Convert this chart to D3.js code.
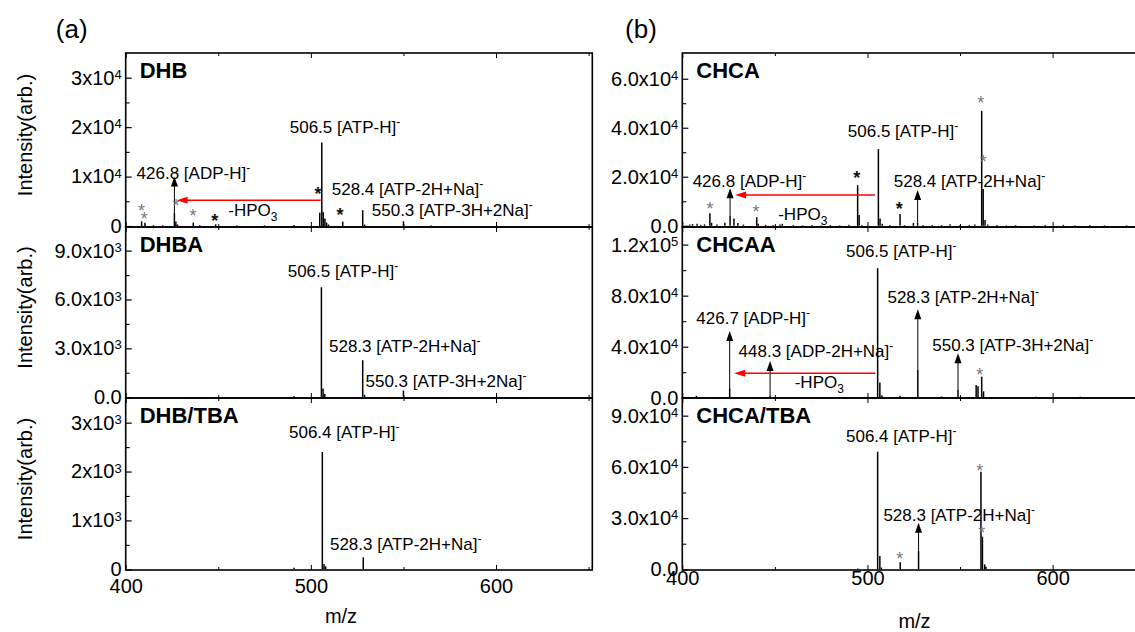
<!DOCTYPE html>
<html><head><meta charset="utf-8">
<script src="https://cdn.jsdelivr.net/npm/d3@7"></script>
<style>
html,body{margin:0;padding:0;background:#fff;}
svg{display:block;font-family:"Liberation Sans",Arial,Helvetica,sans-serif;}
</style></head><body>
<svg id="chart" width="1135" height="632"></svg>
<script>
// ---------- data ----------
const mzDomain = [400, 652];
const xTicksMajor = [400, 500, 600];
const xTicksMinor = [450, 550, 650];
const xTickLabels = ["400", "500", "600"];
const panelTitles = ["DHB", "DHBA", "DHB/TBA", "CHCA", "CHCAA", "CHCA/TBA"];
const groupLabels = ["(a)", "(b)"];
const yTitle = "Intensity(arb.)";
const xTitle = "m/z";

// DHB
const dhbPeaks = [[408.6,950],[410.4,650],[415.0,150],[420.0,120],[426.3,2600],[427.1,900],[428.0,300],[436.5,700],[440.0,150],[448.6,350],[460.0,120],[475.0,120],[490.9,200],[504.8,2700],[505.9,16900],[506.7,2800],[507.6,1500],[508.5,700],[509.5,300],[517.2,900],[528.0,3200],[529.0,300],[550.0,950],[565.0,100]];
const dhbYDomain = [-200, 35000];
const dhbYTicks = [0, 10000, 20000, 30000];
const dhbYMinor = [5000, 15000, 25000];
const dhbYLabels = [["0",""],["1x10","4"],["2x10","4"],["3x10","4"]];
const dhbLabels = [[488.6,18750,"506.5 [ATP-H]"],[405.9,9500,"426.8 [ADP-H]"],[511.3,6270,"528.4 [ATP-2H+Na]"],[532.9,2025,"550.3 [ATP-3H+2Na]"]];
const dhbArrows = [[426.3,2600,10000]];
const dhbRedArrows = [[505.3,427.5,5200]];
const dhbHpo = [[455.4,2025]];
const dhbStars = [[408.6,3900,"g"],[410.0,2170,"g"],[427.2,4860,"g"],[436.3,2900,"g"],[448.1,1820,"b"],[503.9,7230,"b"],[515.7,3040,"b"]];

// DHBA
const dhbaPeaks = [[490.9,60],[505.7,6750],[506.6,530],[507.5,200],[528.0,2270],[529.0,150],[550.0,410]];
const dhbaYDomain = [-50, 10450];
const dhbaYTicks = [0, 3000, 6000, 9000];
const dhbaYMinor = [1500, 4500, 7500];
const dhbaYLabels = [["0.0",""],["3.0x10","3"],["6.0x10","3"],["9.0x10","3"]];
const dhbaLabels = [[487.5,7360,"506.5 [ATP-H]"],[509.8,2790,"528.3 [ATP-2H+Na]"],[529.5,640,"550.3 [ATP-3H+2Na]"]];

// DHB/TBA
const dhbTbaPeaks = [[490.9,30],[506.2,2400],[507.1,110],[508.0,60],[528.3,245]];
const dhbTbaYDomain = [-15, 3505];
const dhbTbaYTicks = [0, 1000, 2000, 3000];
const dhbTbaYMinor = [500, 1500, 2500];
const dhbTbaYLabels = [["0",""],["1x10","3"],["2x10","3"],["3x10","3"]];
const dhbTbaLabels = [[488.2,2680,"506.4 [ATP-H]"],[510.3,394,"528.3 [ATP-2H+Na]"]];

// CHCA
const chcaPeaks = [[404,500],[405.5,700],[408,800],[410,400],[412,600],[414.9,5100],[415.8,1200],[418.7,500],[423,1200],[425.8,4000],[427.9,3000],[430,1100],[433,500],[440.2,3500],[441,800],[445,400],[449,300],[452.8,500],[454,800],[460,300],[465,200],[470,300],[475,200],[480,300],[485,200],[490,400],[494.7,16600],[495.5,4400],[497,300],[505.9,31300],[506.8,3000],[508,800],[512,300],[517.6,4800],[520,300],[524.8,1100],[527.1,1300],[530,300],[535,300],[540,300],[544.6,600],[550,300],[555,300],[558,500],[561.7,46900],[562.5,15000],[563.5,2400],[565,500],[570,300],[575,200],[580,300],[590,200],[596,300],[605.8,400],[612,200],[620,300],[628,200],[640,200]];
const chcaYDomain = [-500, 70500];
const chcaYTicks = [0, 20000, 40000, 60000];
const chcaYMinor = [10000, 30000, 50000];
const chcaYLabels = [["0.0",""],["2.0x10","4"],["4.0x10","4"],["6.0x10","4"]];
const chcaLabels = [[489.4,36350,"506.5 [ATP-H]"],[405.6,15700,"426.8 [ADP-H]"],[514.2,15700,"528.4 [ATP-2H+Na]"]];
const chcaArrows = [[425.8,4000,15290],[527.1,1300,14600]];
const chcaRedArrows = [[504.1,428.5,12560]];
const chcaHpo = [[451.8,2356]];
const chcaStars = [[414.9,8480,"g"],[439.8,7130,"g"],[494.2,21130,"b"],[517.2,8480,"b"],[561.2,51600,"g"],[562.6,27780,"g"]];

// CHCAA
const chcaaPeaks = [[407.6,1500],[425.6,7400],[447.4,1500],[505.5,101500],[506.7,12000],[507.8,2000],[517.6,1500],[527.2,21700],[540,1000],[548.9,6000],[558.7,10000],[559.7,9000],[561.7,16500],[562.7,5000],[591,800],[615,800]];
const chcaaYDomain = [-200, 133800];
const chcaaYTicks = [0, 40000, 80000, 120000];
const chcaaYMinor = [20000, 60000, 100000];
const chcaaYLabels = [["0.0",""],["4.0x10","4"],["8.0x10","4"],["1.2x10","5"]];
const chcaaLabels = [[488.4,110070,"506.5 [ATP-H]"],[510.8,74000,"528.3 [ATP-2H+Na]"],[407.6,57800,"426.7 [ADP-H]"],[430.4,32170,"448.3 [ADP-2H+Na]"],[535.0,36870,"550.3 [ATP-3H+2Na]"]];
const chcaaArrows = [[425.6,7400,52300],[447.4,1500,28800],[527.2,21700,69300],[548.9,6000,34830]];
const chcaaRedArrows = [[504.3,428.0,19160]];
const chcaaHpo = [[460.7,7400]];
const chcaaStars = [[560.7,21200,"g"]];

// CHCA/TBA
const chcaTbaPeaks = [[494.8,500],[505.5,68900],[506.7,7800],[507.5,1000],[517.7,4100],[527.6,10700],[561.3,57200],[562.1,19100],[563.3,2900],[564.0,1500]];
const chcaTbaYDomain = [-400, 100350];
const chcaTbaYTicks = [0, 30000, 60000, 90000];
const chcaTbaYMinor = [15000, 45000, 75000];
const chcaTbaYLabels = [["0.0",""],["3.0x10","4"],["6.0x10","4"],["9.0x10","4"]];
const chcaTbaLabels = [[488.4,74750,"506.4 [ATP-H]"],[508.6,28480,"528.3 [ATP-2H+Na]"]];
const chcaTbaArrows = [[527.6,10700,27300]];
const chcaTbaStars = [[517.4,8390,"g"],[560.7,60100,"g"],[561.7,23440,"g"]];

// ---------- layout ----------
const colX0 = [125.7, 682.3];
const plotW = 466.6;
const rowTop = [53, 227, 398];
const rowH = [174, 171, 172];
const FONT = '"Liberation Sans",Arial,Helvetica,sans-serif';

const panels = [
  {col:0,row:0,peaks:dhbPeaks,yDomain:dhbYDomain,yTicks:dhbYTicks,yMinor:dhbYMinor,yLabels:dhbYLabels,labels:dhbLabels,arrows:dhbArrows,red:dhbRedArrows,hpo:dhbHpo,stars:dhbStars},
  {col:0,row:1,peaks:dhbaPeaks,yDomain:dhbaYDomain,yTicks:dhbaYTicks,yMinor:dhbaYMinor,yLabels:dhbaYLabels,labels:dhbaLabels,arrows:[],red:[],hpo:[],stars:[]},
  {col:0,row:2,peaks:dhbTbaPeaks,yDomain:dhbTbaYDomain,yTicks:dhbTbaYTicks,yMinor:dhbTbaYMinor,yLabels:dhbTbaYLabels,labels:dhbTbaLabels,arrows:[],red:[],hpo:[],stars:[]},
  {col:1,row:0,peaks:chcaPeaks,yDomain:chcaYDomain,yTicks:chcaYTicks,yMinor:chcaYMinor,yLabels:chcaYLabels,labels:chcaLabels,arrows:chcaArrows,red:chcaRedArrows,hpo:chcaHpo,stars:chcaStars},
  {col:1,row:1,peaks:chcaaPeaks,yDomain:chcaaYDomain,yTicks:chcaaYTicks,yMinor:chcaaYMinor,yLabels:chcaaYLabels,labels:chcaaLabels,arrows:chcaaArrows,red:chcaaRedArrows,hpo:chcaaHpo,stars:chcaaStars},
  {col:1,row:2,peaks:chcaTbaPeaks,yDomain:chcaTbaYDomain,yTicks:chcaTbaYTicks,yMinor:chcaTbaYMinor,yLabels:chcaTbaYLabels,labels:chcaTbaLabels,arrows:chcaTbaArrows,red:[],hpo:[],stars:chcaTbaStars}
];
panels.forEach((p,i)=>{ p.title = panelTitles[i]; });

const svg = d3.select("#chart");

panels.forEach(p => {
  const x0 = colX0[p.col], top = rowTop[p.row], h = rowH[p.row];
  const x = d3.scaleLinear().domain(mzDomain).range([x0, x0 + plotW]);
  const y = d3.scaleLinear().domain(p.yDomain).range([top + h, top]);
  const g = svg.append("g");

  // peaks
  g.selectAll("line.peak").data(p.peaks).join("line").attr("class","peak")
    .attr("x1", d => x(d[0])).attr("x2", d => x(d[0]))
    .attr("y1", y(0)).attr("y2", d => y(d[1]))
    .attr("stroke", "#000").attr("stroke-width", 1.5);

  // black arrows
  g.selectAll("line.arr").data(p.arrows).join("line").attr("class","arr")
    .attr("x1", d => x(d[0])).attr("x2", d => x(d[0]))
    .attr("y1", d => y(d[1])).attr("y2", d => y(d[2]) + 8)
    .attr("stroke", "#000").attr("stroke-width", 1);
  g.selectAll("path.ah").data(p.arrows).join("path").attr("class","ah")
    .attr("d", d => { const ax = x(d[0]), ay = y(d[2]); return `M${ax},${ay}L${ax-3.5},${ay+10}L${ax+3.5},${ay+10}Z`; })
    .attr("fill", "#000");

  // red arrows
  g.selectAll("line.red").data(p.red).join("line").attr("class","red")
    .attr("x1", d => x(d[0])).attr("x2", d => x(d[1]) + 8)
    .attr("y1", d => y(d[2])).attr("y2", d => y(d[2]))
    .attr("stroke", "#ff0000").attr("stroke-width", 1.5);
  g.selectAll("path.rh").data(p.red).join("path").attr("class","rh")
    .attr("d", d => { const ax = x(d[1]), ay = y(d[2]); return `M${ax},${ay}L${ax+11},${ay-3.5}L${ax+11},${ay+3.5}Z`; })
    .attr("fill", "#ff0000");

  // peak labels
  g.selectAll("text.lab").data(p.labels).join("text").attr("class","lab")
    .attr("x", d => x(d[0])).attr("y", d => y(d[1]))
    .attr("font-size", 17).attr("fill", "#000")
    .each(function(d){
      const t = d3.select(this);
      t.append("tspan").text(d[2]);
      t.append("tspan").attr("dy", -7).attr("font-size", 12).text("-");
    });

  // -HPO3
  g.selectAll("text.hpo").data(p.hpo).join("text").attr("class","hpo")
    .attr("x", d => x(d[0])).attr("y", d => y(d[1]))
    .attr("font-size", 17).attr("fill", "#000")
    .each(function(){
      const t = d3.select(this);
      t.append("tspan").text("-HPO");
      t.append("tspan").attr("dy", 5).attr("font-size", 12).text("3");
    });

  // asterisks
  g.selectAll("text.star").data(p.stars).join("text").attr("class","star")
    .attr("x", d => x(d[0])).attr("y", d => y(d[1]) + 10)
    .attr("text-anchor", "middle").attr("font-size", 18)
    .attr("font-weight", d => d[2] === "g" ? "normal" : "bold")
    .attr("fill", d => d[2] === "g" ? "#7a7a7a" : "#111")
    .text("*");

  // frame
  g.append("rect").attr("x", x0).attr("y", top).attr("width", plotW).attr("height", h)
    .attr("fill", "none").attr("stroke", "#000").attr("stroke-width", 1.6);

  // y axis major
  const yg = g.append("g").attr("transform", `translate(${x0},0)`)
    .call(d3.axisLeft(y).tickValues(p.yTicks).tickSize(-6).tickPadding(4).tickFormat(""));
  yg.select(".domain").remove();
  yg.attr("font-family", FONT).attr("font-size", 20);
  yg.selectAll(".tick line").attr("stroke-width", 1.2);
  yg.selectAll(".tick text").attr("fill", "#000").each(function(d, i){
    const t = d3.select(this);
    const lab = p.yLabels[i];
    t.text(null);
    t.append("tspan").text(lab[0]);
    if (lab[1]) t.append("tspan").attr("dy", "-0.45em").attr("font-size", 13).text(lab[1]);
  });
  // y axis minor
  const ym = g.append("g").attr("transform", `translate(${x0},0)`)
    .call(d3.axisLeft(y).tickValues(p.yMinor).tickSize(-4).tickFormat(""));
  ym.select(".domain").remove();
  ym.selectAll(".tick line").attr("stroke-width", 1.1);

  // x ticks bottom & top
  const xb = g.append("g").attr("transform", `translate(0,${top + h})`)
    .call(d3.axisBottom(x).tickValues(xTicksMajor).tickSize(-5).tickPadding(p.col === 0 ? 9 : 1)
      .tickFormat((d, i) => p.row === 2 ? xTickLabels[i] : ""));
  xb.select(".domain").remove();
  xb.attr("font-family", FONT).attr("font-size", 20);
  xb.selectAll(".tick text").attr("fill", "#000");
  const xbm = g.append("g").attr("transform", `translate(0,${top + h})`)
    .call(d3.axisBottom(x).tickValues(xTicksMinor).tickSize(-3).tickFormat(""));
  xbm.select(".domain").remove();
  const xt = g.append("g").attr("transform", `translate(0,${top})`)
    .call(d3.axisTop(x).tickValues(xTicksMajor).tickSize(-5).tickFormat(""));
  xt.select(".domain").remove();
  const xtm = g.append("g").attr("transform", `translate(0,${top})`)
    .call(d3.axisTop(x).tickValues(xTicksMinor).tickSize(-3).tickFormat(""));
  xtm.select(".domain").remove();

  // panel title
  g.append("text").attr("x", x0 + 14).attr("y", top + 25)
    .attr("font-size", 22).attr("font-weight", "bold").attr("fill", "#000")
    .text(p.title);

  // y title (left column only)
  if (p.col === 0) {
    const cy = top + h / 2 - 5;
    g.append("text").attr("transform", `translate(32,${cy}) rotate(-90)`)
      .attr("text-anchor", "middle").attr("font-size", 20).attr("fill", "#000")
      .text(yTitle);
  }
});

// group labels
svg.append("text").attr("x", 71.7).attr("y", 38).attr("text-anchor", "middle")
  .attr("font-size", 26).text(groupLabels[0]);
svg.append("text").attr("x", 641).attr("y", 38).attr("text-anchor", "middle")
  .attr("font-size", 26).text(groupLabels[1]);

// x titles
svg.append("text").attr("x", 341).attr("y", 623).attr("text-anchor", "middle")
  .attr("font-size", 20).text(xTitle);
svg.append("text").attr("x", 914.5).attr("y", 628).attr("text-anchor", "middle")
  .attr("font-size", 20).text(xTitle);
</script></body></html>
